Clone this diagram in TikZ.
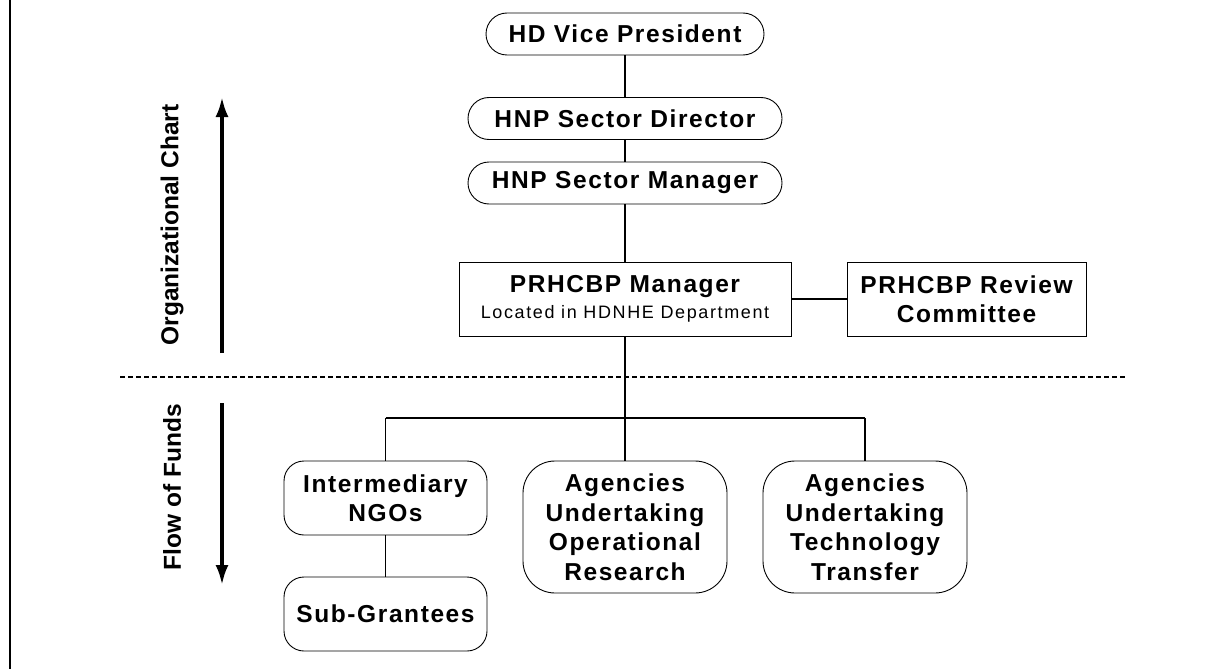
\documentclass[tikz,border=0pt]{standalone}
\usepackage{fontspec}
\setmainfont{Liberation Sans}
\newfontfamily\boxfont[LetterSpace=6.5]{Liberation Sans}
\newfontfamily\smallfont[LetterSpace=9]{Liberation Sans}
\usetikzlibrary{arrows.meta}
\tikzset{
  base/.style={draw=black, line width=0.9pt, inner sep=0pt, align=center,
    font=\boxfont\bfseries\fontsize{24.5}{29.5}\selectfont},
  pill/.style={base, rounded corners=21pt, minimum height=42pt},
  rbox/.style={base, rounded corners=20pt, minimum width=203pt, minimum height=74pt},
  abox/.style={base, rounded corners=32pt, minimum width=204pt, minimum height=132pt},
  sbox/.style={base, minimum height=74pt},
  conn/.style={line width=1.8pt},
  bigarrow/.style={line width=3.5pt, -{Latex[length=20pt,width=13pt]}},
  sidelabel/.style={rotate=90, inner sep=0pt, font=\bfseries\fontsize{24.5}{29}\selectfont}
}
\begin{document}
\begin{tikzpicture}[x=1pt,y=-1pt]
\useasboundingbox (0,0) rectangle (1232,669);
\coordinate (frameT) at (10,0);
\coordinate (frameB) at (10,669);
\draw[line width=1.4pt] (frameT) -- (frameB);

\node[pill, minimum width=278pt] (vp) at (625,34) {HD Vice President};
\node[pill, minimum width=314pt] (dir) at (625,118.5) {HNP Sector Director};
\node[pill, minimum width=314pt] (mgr) at (625,183) {HNP Sector Manager};
\node[sbox, minimum width=332pt] (prm) at (625,299)
  {PRHCBP Manager\\[-3pt]{\smallfont\mdseries\fontsize{18}{21}\selectfont Located in HDNHE Department}};
\node[sbox, minimum width=239pt] (rev) at (966.5,299) {PRHCBP Review\\Committee};

\node[rbox] (ngo) at (385.5,498) {Intermediary\\NGOs};
\node[rbox] (sub) at (385.5,614) {Sub-Grantees};
\node[abox] (aor) at (625,527) {Agencies\\Undertaking\\Operational\\Research};
\node[abox] (atr) at (865,527) {Agencies\\Undertaking\\Technology\\Transfer};

\coordinate (jc) at (625,418);
\coordinate (jl) at (385.5,418);
\coordinate (jr) at (865,418);

\draw[conn] (vp) -- (dir);
\draw[conn] (dir) -- (mgr);
\draw[conn] (mgr) -- (prm);
\draw[conn] (prm) -- (rev);
\draw[conn] (prm) -- (aor);
\draw[conn] (jl) -- (jr);
\draw[conn] (jl) -- (ngo);
\draw[conn] (jr) -- (atr);
\draw[conn] (ngo) -- (sub);

\coordinate (dashL) at (120,377);
\coordinate (dashR) at (1126,377);
\draw[line width=1.2pt, dash pattern=on 5pt off 3pt] (dashL) -- (dashR);

\coordinate (upS) at (222,353);
\coordinate (upE) at (222,97);
\coordinate (dnS) at (222,403);
\coordinate (dnE) at (222,585);
\draw[bigarrow] (upS) -- (upE);
\draw[bigarrow] (dnS) -- (dnE);

\node[sidelabel] (orgl) at (172,225) {Organizational Chart};
\node[sidelabel] (fofl) at (172,487) {Flow of Funds};
\end{tikzpicture}
\end{document}
